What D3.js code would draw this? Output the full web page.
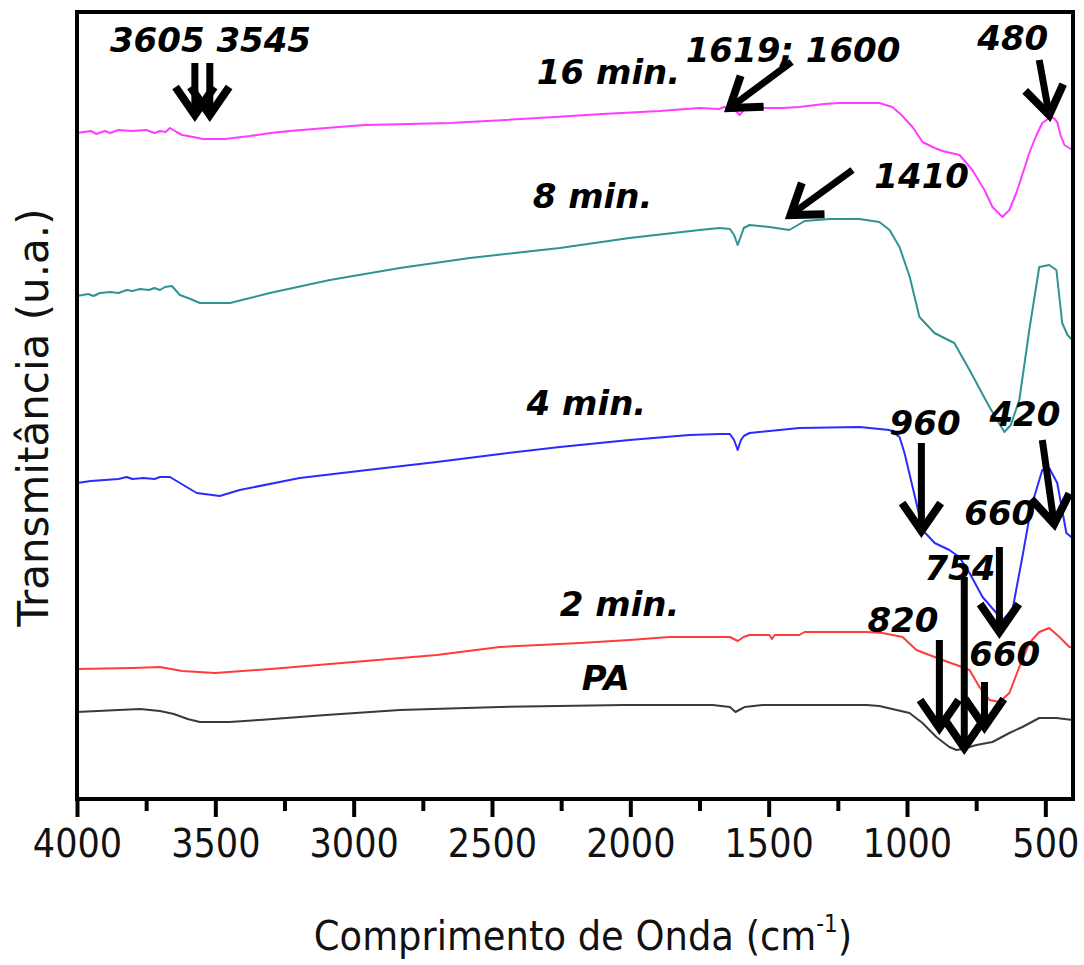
<!DOCTYPE html>
<html>
<head>
<meta charset="utf-8">
<script src="https://cdn.jsdelivr.net/npm/d3@7"></script>
<style>
  html, body { margin: 0; padding: 0; background: #fff; }
  svg { display: block; }
</style>
</head>
<body>
<svg id="chart" width="1084" height="965"></svg>
<script>
// FTIR spectra: [wavenumber (cm-1), transmittance (a.u., stacked)]
const specPA = [
  [4000,87],[3850,89],[3772,90],[3700,88],[3650,85],[3600,80],[3556,77],[3450,77],[3340,79],
  [3100,84],[2833,89],[2472,92],[2021,94],[1703,94],[1640,92],[1620,87],[1600,90],[1587,92],
  [1522,94],[1147,94],[1100,93],[991,86],[944,76],[894,62],[847,52],[821,49],[800,50],
  [749,54],[691,57],[630,66],[583,72],[522,81],[460,81],[402,79]
];
const spec2min = [
  [4000,130],[3800,131],[3700,132],[3620,128],[3500,126],[3300,130],[3000,137],[2700,144],
  [2472,152],[2328,154],[2183,156],[2003,159],[1858,162],[1640,162],[1612,158],[1590,162],
  [1569,164],[1497,164],[1488,160],[1478,164],[1389,164],[1370,167],[1147,167],[1089,166],
  [1016,162],[966,149],[872,139],[821,134],[774,129],[738,112],[702,99],[666,97],[630,106],
  [594,132],[558,156],[522,167],[486,171],[449,162],[413,152],[402,152]
];
const spec4min = [
  [4000,316],[3950,318],[3900,319],[3850,320],[3820,322],[3800,320],[3760,321],[3720,320],
  [3700,322],[3664,322],[3628,316],[3567,306],[3484,303],[3412,309],[3195,321],[2950,329],
  [2700,337],[2470,345],[2255,352],[2003,359],[1786,364],[1677,365],[1640,365],[1625,359],
  [1612,349],[1600,359],[1590,363],[1569,366],[1389,371],[1172,372],[1063,369],[1027,362],
  [1009,346],[966,296],[944,269],[900,256],[847,249],[811,242],[774,226],[727,202],[680,187],
  [655,179],[619,189],[583,242],[551,292],[511,329],[486,331],[457,316],[424,266],[402,261]
];
const spec8min = [
  [4000,503],[3960,505],[3940,503],[3917,506],[3880,507],[3850,506],[3820,509],[3800,508],
  [3772,510],[3740,509],[3720,511],[3700,509],[3682,512],[3657,513],[3628,504],[3590,500],
  [3556,496],[3447,496],[3303,506],[3086,519],[2833,531],[2580,541],[2255,551],[2003,561],
  [1750,569],[1677,571],[1640,570],[1625,564],[1612,554],[1600,563],[1590,571],[1569,574],
  [1497,572],[1425,569],[1370,578],[1280,580],[1172,580],[1100,577],[1063,569],[1027,552],
  [990,522],[955,482],[901,466],[829,456],[774,429],[702,392],[648,367],[625,374],[594,399],
  [558,469],[522,532],[486,534],[460,529],[439,476],[420,464],[402,459]
];
const spec16min = [
  [4000,666],[3950,668],[3930,665],[3900,668],[3880,666],[3850,669],[3800,668],[3750,669],
  [3720,666],[3700,668],[3680,667],[3664,671],[3640,667],[3620,664],[3580,662],[3545,660],
  [3465,660],[3375,663],[3300,666],[3231,668],[3100,671],[2960,674],[2800,675],[2653,676],
  [2450,679],[2273,682],[2100,685],[1894,688],[1750,691],[1680,690],[1660,692],[1640,690],
  [1619,688],[1605,684],[1590,689],[1569,691],[1450,691],[1389,692],[1300,695],[1244,696],
  [1100,696],[1053,692],[1020,684],[980,672],[944,657],[900,651],[872,648],[810,644],
  [764,629],[720,609],[691,592],[655,582],[630,589],[605,606],[580,627],[558,646],[535,662],
  [511,676],[486,681],[470,681],[457,677],[445,664],[431,654],[402,649]
];

const seriesNames  = ["PA", "2 min.", "4 min.", "8 min.", "16 min."];
const seriesColors = ["#3a3a3a", "#ff3b3b", "#2b2bff", "#2f9393", "#ff3cff"];
const seriesData   = [specPA, spec2min, spec4min, spec8min, spec16min];

// Curve labels: [text, wavenumber, transmittance] (text start / baseline)
const curveLabels = [
  ["16 min.", 2338, 715],
  ["8 min.", 2353, 591],
  ["4 min.", 2375, 384],
  ["2 min.", 2255, 183],
  ["PA", 2176, 109]
];

// Band assignments: [text, wavenumber, transmittance]
const bandLabels = [
  ["3605 3545", 3881, 747],
  ["1619; 1600", 1800, 737],
  ["480", 746, 749],
  ["1410", 1118, 611],
  ["960", 1063, 364],
  ["420", 702, 373],
  ["660", 793, 274],
  ["754", 937, 219],
  ["820", 1143, 167],
  ["660", 775, 133]
];

// Arrows: [tail wavenumber, tail T, tip wavenumber, tip T]
const bandArrows = [
  [3574, 736, 3574, 684],
  [3520, 736, 3520, 684],
  [1417, 737, 1641, 691],
  [522, 739, 486, 684],
  [1197, 629, 1421, 584],
  [948, 356, 948, 268],
  [511, 359, 468, 275],
  [666, 252, 666, 167],
  [793, 222, 793, 51],
  [883, 159, 883, 71],
  [720, 117, 720, 72]
];

const xMajorTicks = [4000, 3500, 3000, 2500, 2000, 1500, 1000, 500];
const xMinorTicks = [3750, 3250, 2750, 2250, 1750, 1250, 750];

const svg = d3.select("#chart");
const margin = { left: 77, right: 11, top: 12, bottom: 166 };
const W = 1084, H = 965;
const x0 = margin.left, x1 = W - margin.right, y0 = H - margin.bottom, y1 = margin.top;

const x = d3.scaleLinear().domain([4000, 400]).range([x0, x1]);
const y = d3.scaleLinear().domain([0, 787]).range([y0, y1]);

const tickFont = "'DejaVu Sans Condensed', 'DejaVu Sans', sans-serif";
const titleFontY = "'DejaVu Sans', Verdana, sans-serif";
const annFont = "'DejaVu Sans', Verdana, sans-serif";

// spectra
const line = d3.line().x(d => x(d[0])).y(d => y(d[1])).curve(d3.curveLinear);
const plot = svg.append("g");
seriesData.forEach((s, i) => {
  plot.append("path")
    .datum(s)
    .attr("d", line)
    .attr("fill", "none")
    .attr("stroke", seriesColors[i])
    .attr("stroke-width", 2)
    .attr("stroke-linejoin", "round");
});

// axis ticks (bottom only)
const axisMajor = d3.axisBottom(x).tickValues(xMajorTicks).tickSize(18).tickPadding(12)
  .tickFormat(d3.format("d"));
const gMaj = svg.append("g").attr("transform", `translate(0,${y0})`).call(axisMajor);
gMaj.select(".domain").remove();
gMaj.selectAll(".tick line").attr("stroke", "#000").attr("stroke-width", 4);
gMaj.selectAll(".tick text")
  .attr("font-family", tickFont).attr("font-size", 39).attr("fill", "#111")
  .attr("dy", "0.71em");

const axisMinor = d3.axisBottom(x).tickValues(xMinorTicks).tickSize(12).tickFormat("");
const gMin = svg.append("g").attr("transform", `translate(0,${y0})`).call(axisMinor);
gMin.select(".domain").remove();
gMin.selectAll(".tick line").attr("stroke", "#000").attr("stroke-width", 4);

// frame
svg.append("rect")
  .attr("x", x0).attr("y", y1)
  .attr("width", x1 - x0).attr("height", y0 - y1)
  .attr("fill", "none").attr("stroke", "#000").attr("stroke-width", 4);

// axis titles
const xt = svg.append("text")
  .attr("x", (x0 + x1) / 2 + 8).attr("y", 950)
  .attr("text-anchor", "middle")
  .attr("font-family", tickFont).attr("font-size", 41).attr("fill", "#111");
xt.append("tspan").text("Comprimento de Onda (cm");
xt.append("tspan").text("-1").attr("font-size", 24).attr("dy", -18);
xt.append("tspan").text(")").attr("dy", 18);

svg.append("text")
  .attr("transform", `translate(48,${(y0 + y1) / 2 + 12}) rotate(-90)`)
  .attr("text-anchor", "middle")
  .attr("font-family", titleFontY).attr("font-size", 42).attr("fill", "#111")
  .text("Transmitância (u.a.)");

// arrows
const ann = svg.append("g");
bandArrows.forEach(a => {
  const tx = x(a[0]), ty = y(a[1]), px = x(a[2]), py = y(a[3]);
  const ang = Math.atan2(py - ty, px - tx);
  const len = 34, spread = Math.PI / 5.2;
  const l1 = [px - len * Math.cos(ang - spread), py - len * Math.sin(ang - spread)];
  const l2 = [px - len * Math.cos(ang + spread), py - len * Math.sin(ang + spread)];
  ann.append("path")
    .attr("d", `M${tx},${ty}L${px},${py}`)
    .attr("stroke", "#000").attr("stroke-width", 7).attr("fill", "none");
  ann.append("path")
    .attr("d", `M${l1[0]},${l1[1]}L${px},${py}L${l2[0]},${l2[1]}`)
    .attr("stroke", "#000").attr("stroke-width", 8).attr("fill", "none")
    .attr("stroke-linejoin", "miter").attr("stroke-miterlimit", 10);
});

// labels
curveLabels.concat(bandLabels).forEach(l => {
  ann.append("text")
    .attr("x", x(l[1])).attr("y", y(l[2]))
    .attr("font-family", annFont).attr("font-size", 34)
    .attr("font-weight", "bold").attr("font-style", "italic")
    .attr("fill", "#000")
    .text(l[0]);
});
</script>
</body>
</html>
